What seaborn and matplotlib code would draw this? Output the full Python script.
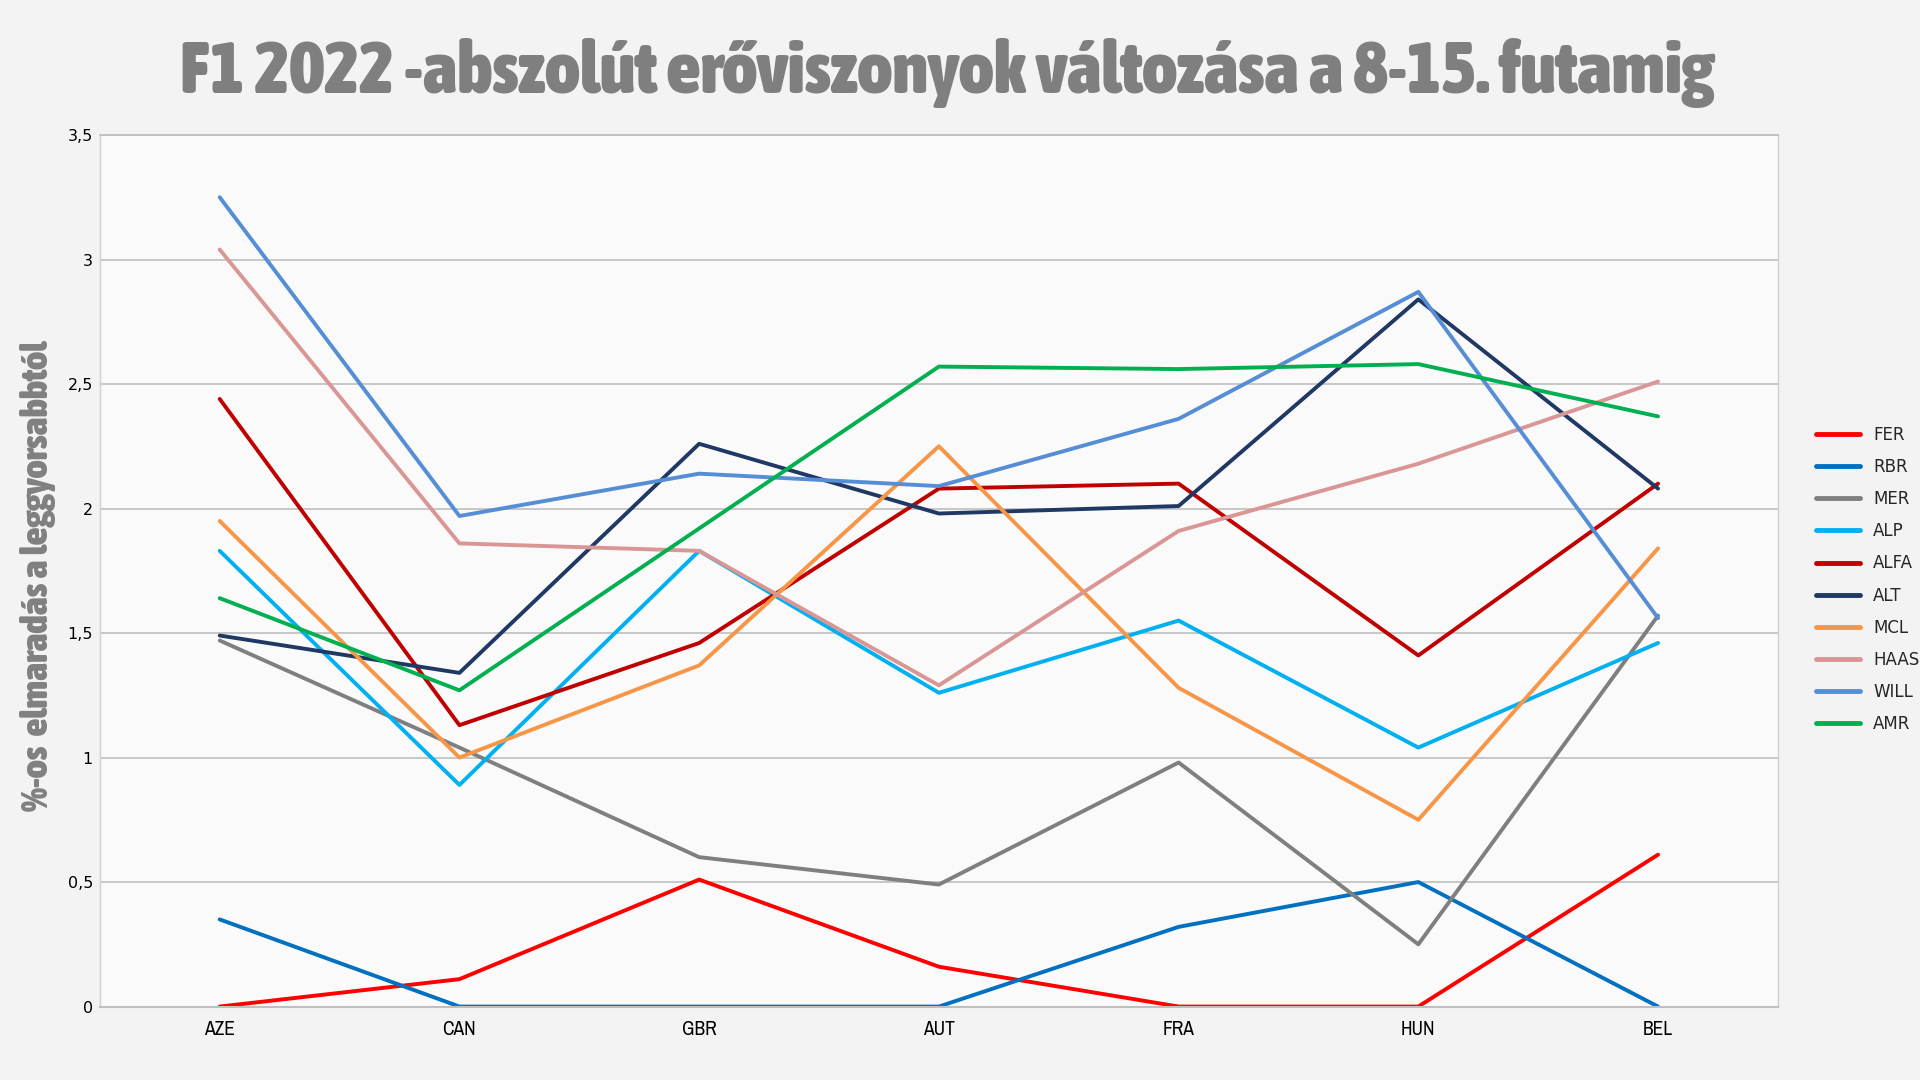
import pandas as pd
import matplotlib.pyplot as plt
import matplotlib.font_manager as fm
import seaborn as sns
from matplotlib.ticker import FuncFormatter

# futamok
races = ['AZE', 'CAN', 'GBR', 'AUT', 'FRA', 'HUN', 'BEL']

# %-os elmaradás a leggyorsabbtól csapatonként
fer = [0.00, 0.11, 0.51, 0.16, 0.00, 0.00, 0.61]
rbr = [0.35, 0.00, 0.00, 0.00, 0.32, 0.50, 0.00]
mer = [1.47, 1.04, 0.60, 0.49, 0.98, 0.25, 1.57]
alp = [1.83, 0.89, 1.83, 1.26, 1.55, 1.04, 1.46]
alfa = [2.44, 1.13, 1.46, 2.08, 2.10, 1.41, 2.10]
alt = [1.49, 1.34, 2.26, 1.98, 2.01, 2.84, 2.08]
mcl = [1.95, 1.00, 1.37, 2.25, 1.28, 0.75, 1.84]
haas = [3.04, 1.86, 1.83, 1.29, 1.91, 2.18, 2.51]
will = [3.25, 1.97, 2.14, 2.09, 2.36, 2.87, 1.56]
amr = [1.64, 1.27, 1.92, 2.57, 2.56, 2.58, 2.37]

teams = ['FER', 'RBR', 'MER', 'ALP', 'ALFA', 'ALT', 'MCL', 'HAAS', 'WILL', 'AMR']
series = [fer, rbr, mer, alp, alfa, alt, mcl, haas, will, amr]
colors = ['#FF0000', '#0070C0', '#7F7F7F', '#00B0F0', '#C00000',
          '#203864', '#F79646', '#D99694', '#558ED5', '#00B050']

rows = []
for team, vals in zip(teams, series):
    for i, v in enumerate(vals):
        rows.append({'race': i, 'team': team, 'gap': v})
df = pd.DataFrame(rows)

sns.set_theme(style='white')
plt.rcParams['font.family'] = ['DejaVu Sans']


def weight_num(w):
    if isinstance(w, str):
        return fm.weight_dict.get(w, 400)
    return w


# keskeny, félkövér betűtípus ha van
narrow_bold = None
narrow_any = None
for f in fm.fontManager.ttflist:
    if 'Narrow' in f.name or 'Condensed' in f.name:
        if narrow_any is None:
            narrow_any = f.name
        if weight_num(f.weight) >= 700 and narrow_bold is None:
            narrow_bold = f.fname
head_font = fm.FontProperties(fname=narrow_bold) if narrow_bold else \
    fm.FontProperties(family=narrow_any or 'DejaVu Sans', weight='bold')

fig = plt.figure(figsize=(19.2, 10.8), dpi=100, facecolor='#F3F3F3')
ax = fig.add_axes([0.052, 0.068, 0.874, 0.807])
ax.set_facecolor('#FAFAFA')

sns.lineplot(data=df, x='race', y='gap', hue='team', hue_order=teams,
             palette=dict(zip(teams, colors)), linewidth=2.8, sort=False,
             ax=ax, legend=True)

ax.set_xlim(-0.5, 6.5)
ax.set_ylim(0, 3.5)
ax.set_xticks(range(len(races)))
tick_font = fm.FontProperties(family=narrow_any or 'DejaVu Sans', size=14)
ax.set_xticklabels(races, color='#000000', fontproperties=tick_font)
ax.set_yticks([0, 0.5, 1, 1.5, 2, 2.5, 3, 3.5])
ax.yaxis.set_major_formatter(FuncFormatter(lambda v, p: ('%g' % v).replace('.', ',')))
ax.tick_params(axis='y', labelsize=11.5, colors='#000000', pad=5, length=0)
ax.tick_params(axis='x', pad=10, length=0)
ax.grid(axis='y', color='#BFBFBF', linewidth=1.2)
ax.set_axisbelow(True)
for side in ['left', 'right']:
    ax.spines[side].set_color('#CFCFCF')
    ax.spines[side].set_linewidth(1)
ax.spines['top'].set_color('#BFBFBF')
ax.spines['bottom'].set_color('#BFBFBF')
ax.spines['bottom'].set_linewidth(1.5)

ax.set_xlabel('')
ylab = ax.set_ylabel('%-os  elmaradás a leggyorsabbtól', color='#808080',
                     fontproperties=head_font)
ylab.set_fontsize(26)
ax.yaxis.set_label_coords(-0.026, 0.494)

leg = ax.legend(loc='center left', bbox_to_anchor=(1.014, 0.49), frameon=False,
                fontsize=12, handlelength=2.6, labelspacing=0.85, handletextpad=0.8)
for line in leg.get_lines():
    line.set_linewidth(3.5)

title = fig.text(0.493, 0.932, 'F1 2022 -abszolút erőviszonyok változása a 8-15. futamig',
                 ha='center', va='center', color='#7F7F7F', fontproperties=head_font)
title.set_fontsize(50)
# méretek igazítása a referencia szerint (cím kb. 1534 px, tengelyfelirat kb. 470 px)
renderer = fig.canvas.get_renderer()
w = title.get_window_extent(renderer).width
title.set_fontsize(50 * 1534 / w)
h = ylab.get_window_extent(renderer).height
ylab.set_fontsize(26 * 470 / h)

fig.savefig('out.png', dpi=100, facecolor=fig.get_facecolor())
